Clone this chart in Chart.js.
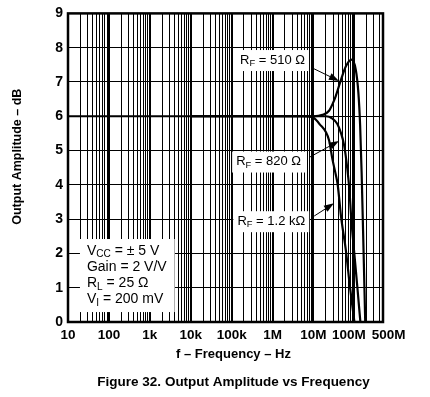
<!DOCTYPE html>
<html><head><meta charset="utf-8">
<style>html,body{margin:0;padding:0;background:#fff;}</style>
<script src="https://cdn.jsdelivr.net/npm/chart.js@4.4.1/dist/chart.umd.min.js"></script>
</head><body>
<canvas id="c" width="430" height="397"></canvas>
<script>
// ---- data ----
const xTickValues = [10, 100, 1e3, 1e4, 1e5, 1e6, 1e7, 1e8, 5e8];
const xTickLabels = ['10', '100', '1k', '10k', '100k', '1M', '10M', '100M   ', '   500M'];
const yTickValues = [0, 1, 2, 3, 4, 5, 6, 7, 8, 9];

const freq510 = [1e4, 1e6, 1e7, 1.66e7, 2.4e7, 2.95e7, 3.5e7, 4.6e7, 6.2e7, 8.6e7, 1.08e8, 1.25e8, 1.38e8, 1.5e8, 1.63e8, 1.84e8];
const db510   = [6.0, 6.0, 6.0, 6.04, 6.16, 6.37, 6.59, 7.03, 7.46, 7.65, 7.36, 6.69, 5.74, 4.38, 2.65, 0.0];

const freq820 = [1e4, 1e6, 1e7, 2.0e7, 2.85e7, 3.8e7, 4.7e7, 5.6e7, 6.7e7, 7.6e7, 8.3e7, 9.8e7, 1.18e8, 1.4e8];
const db820   = [6.0, 6.0, 6.0, 6.0, 5.94, 5.78, 5.51, 5.16, 4.48, 3.81, 3.09, 2.08, 1.02, 0.0];

const freq1k2 = [10, 1e6, 5.9e6, 9.5e6, 1.39e7, 2.4e7, 2.9e7, 3.5e7, 3.9e7, 4.7e7, 6.2e7, 7.8e7, 1.0e8];
const db1k2   = [6.0, 6.0, 6.0, 5.97, 5.78, 5.3, 4.75, 4.30, 4.01, 3.09, 2.08, 1.02, 0.0];

const seriesNames = ['RF = 510 Ω', 'RF = 820 Ω', 'RF = 1.2 kΩ'];

const xTitle = 'f – Frequency – Hz';
const yTitle = 'Output Amplitude – dB';
const caption = 'Figure 32. Output Amplitude vs Frequency';

// ---- annotations (data-space anchors) ----
const FONT = '"Liberation Sans", Arial, Helvetica, sans-serif';
const curveLabels = [
  { parts: [['R'], ['F', 1], [' = 510 Ω']],  x: 1.0e6, y: 7.64, from: [9.3e6, 7.41],  to: [4.2e7, 7.03] },
  { parts: [['R'], ['F', 1], [' = 820 Ω']],  x: 8.0e5, y: 4.68, from: [7.85e6, 4.80], to: [4.2e7, 5.28] },
  { parts: [['R'], ['F', 1], [' = 1.2 kΩ']], x: 9.3e5, y: 2.94, from: [1.04e7, 3.09], to: [3.16e7, 3.46] }
];
const condLines = [
  [['V'], ['CC', 1], [' = ± 5 V']],
  [['Gain = 2 V/V']],
  [['R'], ['L', 1], [' = 25 Ω']],
  [['V'], ['I', 1], [' = 200 mV']]
];
const condLineDb = [2.08, 1.59, 1.13, 0.66];
const condBox = { x0: 19.6, x1: 4050, y0: 0.29, y1: 2.42, textX: 29 };

// minor+major log grid ticks
const gridTicks = [];
for (let e = 1; e <= 8; e++) {
  for (let m = 1; m <= 9; m++) {
    const v = m * Math.pow(10, e);
    if (v <= 5e8 + 1) gridTicks.push(v);
  }
}
function isMajor(v) {
  return xTickValues.some(t => Math.abs(t - v) / t < 1e-6);
}

function toPts(fx, dy) { return fx.map((f, i) => ({ x: f, y: dy[i] })); }

function richWidth(ctx, parts, size) {
  let w = 0;
  for (const p of parts) {
    ctx.font = (p[1] ? size * 0.72 : size) + 'px ' + FONT;
    w += ctx.measureText(p[0]).width;
  }
  return w;
}
function drawRich(ctx, parts, x, y, size) {
  let cx = x;
  ctx.textBaseline = 'middle';
  ctx.textAlign = 'left';
  for (const p of parts) {
    const s = p[1] ? size * 0.72 : size;
    ctx.font = s + 'px ' + FONT;
    ctx.fillText(p[0], cx, p[1] ? y + size * 0.28 : y);
    cx += ctx.measureText(p[0]).width;
  }
}
function arrow(ctx, x0, y0, x1, y1) {
  const a = Math.atan2(y1 - y0, x1 - x0);
  const L = 10, W = 3.6;
  ctx.strokeStyle = '#000';
  ctx.lineWidth = 1;
  ctx.beginPath();
  ctx.moveTo(x0, y0);
  ctx.lineTo(x1 - L * Math.cos(a), y1 - L * Math.sin(a));
  ctx.stroke();
  ctx.fillStyle = '#000';
  ctx.beginPath();
  ctx.moveTo(x1, y1);
  ctx.lineTo(x1 - L * Math.cos(a) + W * Math.sin(a), y1 - L * Math.sin(a) - W * Math.cos(a));
  ctx.lineTo(x1 - L * Math.cos(a) - W * Math.sin(a), y1 - L * Math.sin(a) + W * Math.cos(a));
  ctx.closePath();
  ctx.fill();
}

const framePlugin = {
  id: 'frame',
  beforeDatasetsDraw(chart) {
    const { ctx, chartArea: a, scales } = chart;
    const xs = scales.x, ys = scales.y;
    ctx.save();
    // condition box (covers grid)
    ctx.fillStyle = '#fff';
    const bx0 = xs.getPixelForValue(condBox.x0), bx1 = xs.getPixelForValue(condBox.x1);
    const by0 = ys.getPixelForValue(condBox.y1), by1 = ys.getPixelForValue(condBox.y0);
    ctx.fillRect(bx0, by0, bx1 - bx0, by1 - by0);
    ctx.fillStyle = '#000';
    condLines.forEach((parts, i) => {
      drawRich(ctx, parts, xs.getPixelForValue(condBox.textX), ys.getPixelForValue(condLineDb[i]), 14);
    });
    // label boxes
    curveLabels.forEach(l => {
      const w = richWidth(ctx, l.parts, 13);
      const cx = xs.getPixelForValue(l.x), cy = ys.getPixelForValue(l.y);
      ctx.fillStyle = '#fff';
      ctx.fillRect(cx - w / 2 - 4, cy - 10, w + 8, 21);
      ctx.fillStyle = '#000';
      drawRich(ctx, l.parts, cx - w / 2, cy, 13);
    });
    // frame
    ctx.strokeStyle = '#000';
    ctx.lineWidth = 2.5;
    ctx.strokeRect(a.left, a.top, a.right - a.left, a.bottom - a.top);
    ctx.restore();
  },
  afterDatasetsDraw(chart) {
    const { ctx, scales, chartArea: a } = chart;
    const xs = scales.x, ys = scales.y;
    ctx.save();
    curveLabels.forEach(l => {
      arrow(ctx, xs.getPixelForValue(l.from[0]), ys.getPixelForValue(l.from[1]),
                 xs.getPixelForValue(l.to[0]), ys.getPixelForValue(l.to[1]));
    });
    // titles
    ctx.fillStyle = '#000';
    ctx.textAlign = 'center';
    ctx.textBaseline = 'middle';
    ctx.font = 'bold 13px ' + FONT;
    ctx.fillText(xTitle, (a.left + a.right) / 2 + 8, a.bottom + 32);
    ctx.font = 'bold 13.5px ' + FONT;
    ctx.fillText(caption, (a.left + a.right) / 2 + 8, a.bottom + 60);
    ctx.save();
    ctx.translate(18, (a.top + a.bottom) / 2 - 11);
    ctx.rotate(-Math.PI / 2);
    ctx.font = 'bold 12.5px ' + FONT;
    ctx.fillText(yTitle, 0, 0);
    ctx.restore();
    ctx.restore();
  }
};

const lineStyle = { borderColor: '#000', borderWidth: 2.2, pointRadius: 0, fill: false, cubicInterpolationMode: 'monotone' };

new Chart(document.getElementById('c'), {
  type: 'line',
  data: {
    datasets: [
      Object.assign({ label: seriesNames[0], data: toPts(freq510, db510) }, lineStyle),
      Object.assign({ label: seriesNames[1], data: toPts(freq820, db820) }, lineStyle),
      Object.assign({ label: seriesNames[2], data: toPts(freq1k2, db1k2) }, lineStyle)
    ]
  },
  options: {
    responsive: false,
    animation: false,
    devicePixelRatio: 1,
    layout: { padding: { left: 0, right: 47, top: 10, bottom: 31 } },
    plugins: {
      legend: { display: false },
      tooltip: { enabled: false },
      title: { display: false, text: caption }
    },
    scales: {
      x: {
        type: 'logarithmic',
        min: 10, max: 5e8,
        afterBuildTicks(scale) { scale.ticks = gridTicks.map(v => ({ value: v })); },
        afterFit(scale) { scale.height = 44; },
        ticks: {
          autoSkip: false, maxRotation: 0, minRotation: 0, padding: 5,
          color: '#000',
          font: { family: FONT, size: 13.5, weight: 'bold' },
          callback(v) {
            const i = xTickValues.findIndex(t => Math.abs(t - v) / t < 1e-6);
            return i >= 0 ? xTickLabels[i] : '';
          }
        },
        grid: {
          color: '#000',
          lineWidth: c => (c.tick && isMajor(c.tick.value)) ? 2 : 1,
          drawTicks: false
        },
        border: { display: false },
        title: { display: false, text: xTitle }
      },
      y: {
        type: 'linear',
        min: 0, max: 9,
        afterBuildTicks(scale) { scale.ticks = yTickValues.map(v => ({ value: v })); },
        afterFit(scale) { scale.width = 68; },
        ticks: {
          color: '#000', padding: 5,
          font: { family: FONT, size: 14, weight: 'bold' },
          callback: v => String(v)
        },
        grid: { color: '#000', lineWidth: 1, drawTicks: false },
        border: { display: false },
        title: { display: false, text: yTitle }
      }
    }
  },
  plugins: [framePlugin]
});
</script>
</body></html>
